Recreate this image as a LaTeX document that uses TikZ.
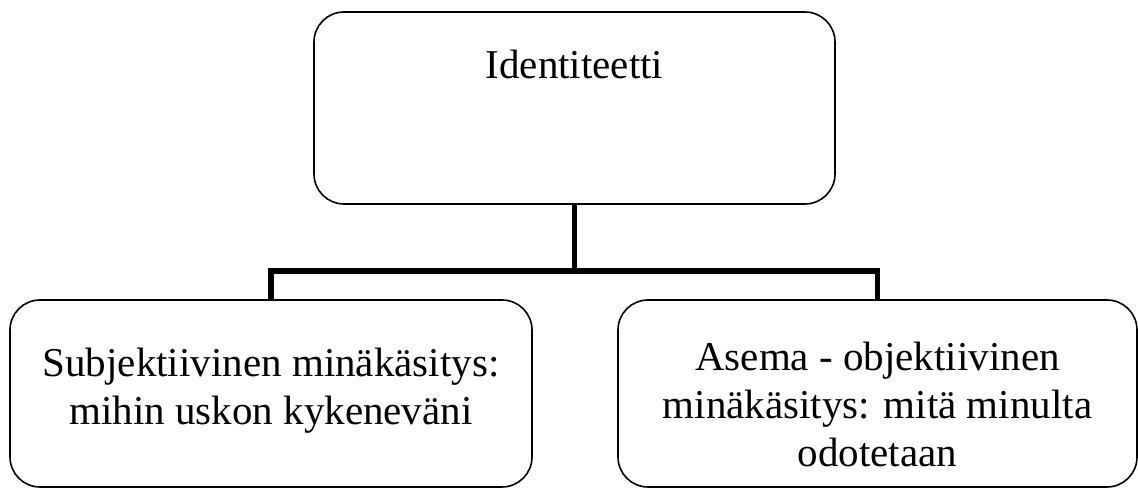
\documentclass[tikz,border=0pt]{standalone}
\usepackage{fontspec}
\setmainfont{Liberation Serif}
\usepackage{tikz}
\usetikzlibrary{positioning,calc}

\begin{document}
\begin{tikzpicture}[x=1pt, y=1pt,
    box/.style={draw, line width=1.6pt, rounded corners=30pt, minimum height=187pt},
    boxtext/.style={align=center, font=\fontsize{41}{48}\selectfont},
    conn/.style={line width=5.5pt}]
      \useasboundingbox (0,0) rectangle (1138,489);
      % boxes
      \node[box, minimum width=521pt, minimum height=192pt] (top) at (574.5,381) {};
      \node[box, minimum width=522pt] (subj) at (271,95.5) {};
      \node[box, minimum width=519pt] (asema) at (877.5,95.5) {};
      % texts (base = last line)
      \node[boxtext, anchor=base] (toptext) at ([yshift=-67pt]top.north) {Identiteetti};
      \node[boxtext, anchor=base] (subjtext) at ([yshift=-125pt]subj.north) {Subjektiivinen minäkäsitys:\\ mihin uskon kykeneväni};
      \node[boxtext, anchor=base] (asematext) at ([yshift=-167pt]asema.north) {Asema - objektiivinen\\ minäkäsitys: mitä minulta\\ odotetaan};
      % connectors
      \draw[conn] (top.south) -- ++(0,-66) coordinate (split);
      \draw[conn] (subj.north) |- (split) -| (asema.north);
    \end{tikzpicture}
\end{document}
